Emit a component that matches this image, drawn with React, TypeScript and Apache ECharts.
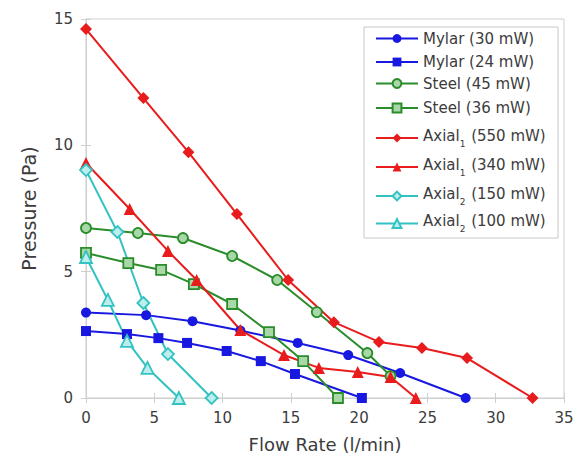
import React, { useEffect, useRef } from "react";
import * as echarts from "echarts";

const mylar30X = [0, 4.4, 7.8, 11.3, 15.5, 19.2, 23.0, 27.8];
const mylar30Y = [3.38, 3.28, 3.04, 2.67, 2.18, 1.7, 0.99, 0];
const mylar24X = [0, 3.0, 5.3, 7.4, 10.3, 12.8, 15.3, 20.2];
const mylar24Y = [2.65, 2.53, 2.37, 2.18, 1.86, 1.46, 0.95, 0];
const steel45X = [0, 3.8, 7.1, 10.7, 14.0, 16.9, 20.6, 22.3];
const steel45Y = [6.73, 6.53, 6.33, 5.62, 4.67, 3.4, 1.78, 0.87];
const steel36X = [0, 3.1, 5.5, 7.9, 10.7, 13.4, 15.9, 18.45];
const steel36Y = [5.74, 5.34, 5.07, 4.51, 3.72, 2.61, 1.46, 0];
const axial550X = [0, 4.2, 7.5, 11.05, 14.8, 18.15, 21.45, 24.6, 27.9, 32.7];
const axial550Y = [14.6, 11.87, 9.73, 7.28, 4.67, 3.0, 2.22, 1.98, 1.58, 0];
const axial340X = [0, 3.2, 6.0, 8.1, 11.3, 14.5, 17.05, 19.9, 22.3, 24.15];
const axial340Y = [9.3, 7.48, 5.82, 4.67, 2.69, 1.7, 1.19, 1.03, 0.83, 0];
const axial150X = [0, 2.3, 4.2, 6.0, 9.2];
const axial150Y = [9.02, 6.57, 3.76, 1.74, 0];
const axial100X = [0, 1.6, 3.0, 4.5, 6.8];
const axial100Y = [5.58, 3.88, 2.26, 1.19, 0];

const seriesNames = [
  "Mylar (30 mW)",
  "Mylar (24 mW)",
  "Steel (45 mW)",
  "Steel (36 mW)",
  "Axial₁ (550 mW)",
  "Axial₁ (340 mW)",
  "Axial₂ (150 mW)",
  "Axial₂ (100 mW)",
];
const legendCenters = [38.5, 62, 83.5, 108, 137.5, 166.5, 195.5, 223];

const BLUE = "#1818e0";
const GREEN = "#2a8c2a";
const RED = "#e81c1c";
const CYAN = "#33c2c2";
const FONT = "DejaVu Sans";
const TEXT = "#3c3c3c";

function zip(xs: number[], ys: number[]) {
  return xs.map((x, i) => [x, ys[i]]);
}

function mk(
  name: string,
  xs: number[],
  ys: number[],
  color: string,
  symbol: string,
  size: number,
  fill: string | null
) {
  return {
    type: "line",
    name,
    data: zip(xs, ys),
    symbol,
    symbolSize: size,
    showAllSymbol: true,
    lineStyle: { color, width: 2 },
    itemStyle: fill
      ? { color: fill, borderColor: color, borderWidth: 1.8 }
      : { color, borderColor: color, borderWidth: 0 },
    emphasis: { disabled: true },
  };
}

export default function App() {
  const ref = useRef<HTMLDivElement>(null);
  useEffect(() => {
    if (!ref.current) return;
    const chart = echarts.init(ref.current, undefined, { renderer: "svg" });
    const series = [
      mk(seriesNames[0], mylar30X, mylar30Y, BLUE, "circle", 10, null),
      mk(seriesNames[1], mylar24X, mylar24Y, BLUE, "rect", 10, null),
      mk(seriesNames[2], steel45X, steel45Y, GREEN, "circle", 10, "#a8d8a8"),
      mk(seriesNames[3], steel36X, steel36Y, GREEN, "rect", 10, "#a8d8a8"),
      mk(seriesNames[4], axial550X, axial550Y, RED, "diamond", 12, null),
      mk(seriesNames[5], axial340X, axial340Y, RED, "triangle", 12, null),
      mk(seriesNames[6], axial150X, axial150Y, CYAN, "diamond", 12, "#bdeeee"),
      mk(seriesNames[7], axial100X, axial100Y, CYAN, "triangle", 12, "#bdeeee"),
    ];
    const legends = seriesNames.map((n, i) => {
      const hasSub = n.includes("₁") || n.includes("₂");
      return {
        data: [n],
        left: 375,
        top: legendCenters[i] - (hasSub ? 9.5 : 7.5),
        orient: "vertical",
        padding: 0,
        itemWidth: 42,
        itemHeight: 11,
        selectedMode: false,
        formatter: (name: string) => {
          const m = name.match(/^(.*?)([₁₂])(.*)$/);
          if (!m) return "{n|" + name + "}";
          const d = m[2] === "₁" ? "1" : "2";
          return "{t|" + m[1] + "}{sub|" + d + "}{t|" + m[3] + "}";
        },
        textStyle: {
          fontFamily: FONT,
          fontSize: 15,
          color: TEXT,
          rich: {
            n: { fontFamily: FONT, fontSize: 15, color: TEXT },
            t: { fontFamily: FONT, fontSize: 15, color: TEXT, verticalAlign: "top" },
            sub: {
              fontFamily: FONT,
              fontSize: 9,
              color: TEXT,
              verticalAlign: "top",
              padding: [11, 1, 0, 0],
            },
          },
        },
      };
    });
    chart.setOption({
      animation: false,
      backgroundColor: "#ffffff",
      grid: {
        left: 86,
        right: 20,
        top: 19,
        bottom: 61,
        show: true,
        borderColor: "#cfcfcf",
        borderWidth: 1,
      },
      legend: legends,
      graphic: [
        {
          type: "rect",
          z: 3,
          shape: { x: 364, y: 27, width: 194, height: 211 },
          style: { fill: "#ffffff", stroke: "#c8c8c8", lineWidth: 1 },
        },
      ],
      xAxis: [
        {
          type: "value",
          min: 0,
          max: 35,
          interval: 5,
          name: "Flow Rate (l/min)",
          nameLocation: "middle",
          nameGap: 37,
          nameTextStyle: { fontFamily: FONT, fontSize: 18, color: TEXT },
          axisLine: { show: true, lineStyle: { color: "#cfcfcf" } },
          axisTick: { show: true, inside: true, length: 5, lineStyle: { color: "#cfcfcf" } },
          axisLabel: { fontFamily: FONT, fontSize: 15, color: TEXT, margin: 12 },
          splitLine: { show: false },
        },
        {
          type: "value",
          position: "top",
          min: 0,
          max: 35,
          interval: 5,
          axisLine: { show: true, lineStyle: { color: "#cfcfcf" } },
          axisTick: { show: true, inside: true, length: 5, lineStyle: { color: "#cfcfcf" } },
          axisLabel: { show: false },
          splitLine: { show: false },
        },
      ],
      yAxis: [
        {
          type: "value",
          min: 0,
          max: 15,
          interval: 5,
          name: "Pressure (Pa)",
          nameLocation: "middle",
          nameGap: 48,
          nameTextStyle: { fontFamily: FONT, fontSize: 19, color: TEXT },
          axisLine: { show: true, lineStyle: { color: "#cfcfcf" } },
          axisTick: { show: true, inside: true, length: 5, lineStyle: { color: "#cfcfcf" } },
          axisLabel: { fontFamily: FONT, fontSize: 15, color: TEXT, margin: 13 },
          splitLine: { show: false },
        },
        {
          type: "value",
          position: "right",
          min: 0,
          max: 15,
          interval: 5,
          axisLine: { show: true, lineStyle: { color: "#cfcfcf" } },
          axisTick: { show: true, inside: true, length: 5, lineStyle: { color: "#cfcfcf" } },
          axisLabel: { show: false },
          splitLine: { show: false },
        },
      ],
      series,
    });
    return () => chart.dispose();
  }, []);
  return (
    <div
      ref={ref}
      style={{ position: "fixed", left: 0, top: 0, width: 584, height: 459 }}
    />
  );
}
